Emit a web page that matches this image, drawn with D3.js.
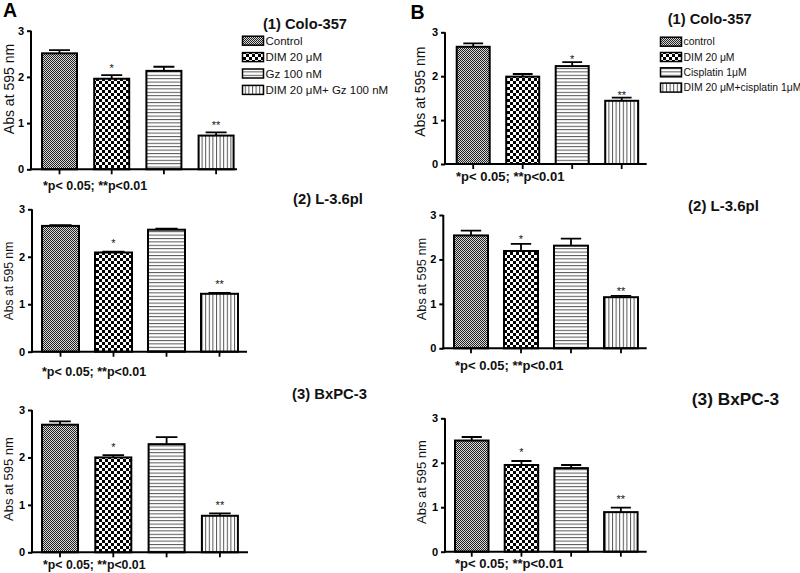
<!DOCTYPE html>
<html>
<head>
<meta charset="utf-8">
<script src="https://cdn.jsdelivr.net/npm/d3@7"></script>
<style>
  html, body { margin: 0; padding: 0; background: #fff; }
  svg { display: block; font-family: "Liberation Sans", Arial, Helvetica, sans-serif; }
</style>
</head>
<body>
<svg id="chart" width="800" height="573"></svg>
<script>
// ---------- DATA ----------
const panelLetters = ["A", "B"];
const cellLines = ["(1) Colo-357", "(2) L-3.6pl", "(3) BxPC-3"];
const groupsA = ["Control", "DIM 20 μM", "Gz 100 nM", "DIM 20 μM+ Gz 100 nM"];
const groupsB = ["control", "DIM 20 μM", "Cisplatin 1μM", "DIM 20 μM+cisplatin 1μM"];
const yTicks = [0, 1, 2, 3];
const yLabel = "Abs at 595 nm";
const footnote = "*p< 0.05; **p<0.01";

const meanA1 = [2.51, 1.96, 2.13, 0.73];
const semA1  = [0.07, 0.08, 0.09, 0.07];
const sigA1  = ["", "*", "", "**"];

const meanA2 = [2.65, 2.09, 2.57, 1.22];
const semA2  = [0.015, 0.02, 0.02, 0.02];
const sigA2  = ["", "*", "", "**"];

const meanA3 = [2.69, 2.00, 2.28, 0.77];
const semA3  = [0.07, 0.05, 0.15, 0.05];
const sigA3  = ["", "*", "", "**"];

const meanB1 = [2.67, 1.99, 2.23, 1.44];
const semB1  = [0.08, 0.06, 0.09, 0.07];
const sigB1  = ["", "", "*", "**"];

const meanB2 = [2.54, 2.19, 2.31, 1.15];
const semB2  = [0.11, 0.16, 0.16, 0.03];
const sigB2  = ["", "*", "", "**"];

const meanB3 = [2.50, 1.95, 1.88, 0.89];
const semB3  = [0.08, 0.09, 0.07, 0.10];
const sigB3  = ["", "*", "", "**"];

const patternIds = ["pControl", "pDIM", "pHoriz", "pVert"];

// ---------- LAYOUT ----------
const svg = d3.select("#chart");
const FONT = '"Liberation Sans", Arial, Helvetica, sans-serif';

// patterns
const defs = svg.append("defs");
{
  const p = defs.append("pattern").attr("id", "pControl").attr("patternUnits", "userSpaceOnUse")
    .attr("width", 2).attr("height", 2);
  p.append("rect").attr("width", 2).attr("height", 2).attr("fill", "#d8d8d8");
  p.append("rect").attr("width", 1).attr("height", 1).attr("fill", "#222");
  p.append("rect").attr("x", 1).attr("y", 1).attr("width", 1).attr("height", 1).attr("fill", "#222");
}
{
  const p = defs.append("pattern").attr("id", "pDIM").attr("patternUnits", "userSpaceOnUse")
    .attr("width", 6).attr("height", 6);
  p.append("rect").attr("width", 6).attr("height", 6).attr("fill", "#fff");
  p.append("rect").attr("width", 3).attr("height", 3).attr("fill", "#000");
  p.append("rect").attr("x", 3).attr("y", 3).attr("width", 3).attr("height", 3).attr("fill", "#000");
}
{
  const p = defs.append("pattern").attr("id", "pHoriz").attr("patternUnits", "userSpaceOnUse")
    .attr("width", 4).attr("height", 3.4);
  p.append("rect").attr("width", 4).attr("height", 3.4).attr("fill", "#fff");
  p.append("rect").attr("y", 0).attr("width", 4).attr("height", 1).attr("fill", "#555");
}
{
  const p = defs.append("pattern").attr("id", "pVert").attr("patternUnits", "userSpaceOnUse")
    .attr("width", 3.6).attr("height", 4);
  p.append("rect").attr("width", 3.6).attr("height", 4).attr("fill", "#fff");
  p.append("rect").attr("x", 0).attr("width", 1).attr("height", 4).attr("fill", "#555");
}

const panels = [
  { mean: meanA1, sem: semA1, sig: sigA1, title: cellLines[0],
    axisX: 31, y0: 169.3, y3: 30.7, firstLeft: 42, step: 52.2, width: 35, axisEnd: 237,
    titleX: 305, titleY: 28.5, titleSize: 14.7,
    labX: 13.5, labY: 89, labSize: 14,
    footX: 43, footY: 189.5, footSize: 12.5, sigOff: 9 },
  { mean: meanA2, sem: semA2, sig: sigA2, title: cellLines[1],
    axisX: 32, y0: 351.7, y3: 209.3, firstLeft: 42, step: 53, width: 37, axisEnd: 247,
    titleX: 328, titleY: 203.5, titleSize: 14.8,
    labX: 13, labY: 281, labSize: 12.2,
    footX: 42, footY: 376, footSize: 12.5, sigOff: 11 },
  { mean: meanA3, sem: semA3, sig: sigA3, title: cellLines[2],
    axisX: 32, y0: 552.3, y3: 410, firstLeft: 42, step: 53.3, width: 36, axisEnd: 248,
    titleX: 329.5, titleY: 398.5, titleSize: 14.8,
    labX: 13, labY: 479, labSize: 13,
    footX: 43, footY: 569, footSize: 12.3, sigOff: 10 },
  { mean: meanB1, sem: semB1, sig: sigB1, title: cellLines[0],
    axisX: 445, y0: 164, y3: 32.3, firstLeft: 456.7, step: 49.5, width: 33, axisEnd: 646.7,
    titleX: 709.7, titleY: 23.5, titleSize: 14.7,
    labX: 425, labY: 91.7, labSize: 14,
    footX: 456, footY: 181, footSize: 13, sigOff: 5 },
  { mean: meanB2, sem: semB2, sig: sigB2, title: cellLines[1],
    axisX: 443.3, y0: 348.3, y3: 215, firstLeft: 454, step: 50, width: 34, axisEnd: 646.7,
    titleX: 723.5, titleY: 210.5, titleSize: 15,
    labX: 426, labY: 279, labSize: 12.8,
    footX: 455, footY: 370, footSize: 13, sigOff: 7 },
  { mean: meanB3, sem: semB3, sig: sigB3, title: cellLines[2],
    axisX: 445, y0: 551.7, y3: 418.3, firstLeft: 455, step: 49.7, width: 33.5, axisEnd: 646.7,
    titleX: 735.5, titleY: 404.5, titleSize: 17.3,
    labX: 426, labY: 482, labSize: 13,
    footX: 455, footY: 567.5, footSize: 13, sigOff: 11 }
];

panels.forEach((P) => {
  const g = svg.append("g");
  const idx = d3.range(P.mean.length);
  const pi = 1 - P.width / P.step;
  const po = (P.firstLeft - P.axisX) / P.step;
  const x = d3.scaleBand().domain(idx)
    .range([P.axisX, P.axisX + P.step * (idx.length - pi + 2 * po)])
    .paddingInner(pi).paddingOuter(po).align(0.5);
  const y = d3.scaleLinear().domain([0, 3]).range([P.y0, P.y3]);

  // bars
  g.selectAll("rect.bar").data(idx).join("rect")
    .attr("class", "bar")
    .attr("x", i => x(i)).attr("width", x.bandwidth())
    .attr("y", i => y(P.mean[i])).attr("height", i => y(0) - y(P.mean[i]))
    .attr("fill", i => `url(#${patternIds[i]})`)
    .attr("stroke", "#000").attr("stroke-width", 2);

  // error bars (upper only)
  const capW = x.bandwidth() * 0.6;
  g.selectAll("path.err").data(idx).join("path")
    .attr("class", "err")
    .attr("d", i => {
      const cx = x(i) + x.bandwidth() / 2;
      const yt = y(P.mean[i] + P.sem[i]);
      return `M${cx},${y(P.mean[i])}V${yt}M${cx - capW / 2},${yt}H${cx + capW / 2}`;
    })
    .attr("fill", "none").attr("stroke", "#000").attr("stroke-width", 1.8);

  // significance
  g.selectAll("text.sig").data(idx.filter(i => P.sig[i])).join("text")
    .attr("class", "sig")
    .attr("x", i => x(i) + x.bandwidth() / 2)
    .attr("y", i => y(P.mean[i] + P.sem[i]) - P.sigOff + 6)
    .attr("text-anchor", "middle")
    .attr("font-size", 11).attr("fill", "#111")
    .text(i => P.sig[i]);

  // y axis
  const ya = g.append("g").attr("transform", `translate(${P.axisX},0)`)
    .call(d3.axisLeft(y).tickValues(yTicks).tickFormat(d3.format("d")).tickSize(4).tickSizeOuter(0).tickPadding(3));
  ya.select(".domain").attr("stroke-width", 2).attr("d", `M0,${y(0) + 1}V${y(3)}`);
  ya.selectAll(".tick line").attr("stroke-width", 2);
  ya.selectAll(".tick text").attr("font-size", 11).attr("font-weight", "bold").attr("font-family", FONT);

  // x axis
  g.append("line").attr("x1", P.axisX - 1).attr("x2", P.axisEnd)
    .attr("y1", y(0)).attr("y2", y(0)).attr("stroke", "#000").attr("stroke-width", 2);
  g.selectAll("line.xt").data(idx).join("line")
    .attr("class", "xt")
    .attr("x1", i => x(i) + x.bandwidth() / 2).attr("x2", i => x(i) + x.bandwidth() / 2)
    .attr("y1", y(0)).attr("y2", y(0) + 5)
    .attr("stroke", "#000").attr("stroke-width", 1.8);

  // y label
  g.append("text")
    .attr("transform", `translate(${P.labX},${P.labY}) rotate(-90)`)
    .attr("text-anchor", "middle").attr("font-size", P.labSize).attr("fill", "#111")
    .text(yLabel);

  // title
  g.append("text").attr("x", P.titleX).attr("y", P.titleY)
    .attr("text-anchor", "middle").attr("font-weight", "bold").attr("font-size", P.titleSize)
    .attr("fill", "#111").text(P.title);

  // footnote
  g.append("text").attr("x", P.footX).attr("y", P.footY)
    .attr("font-weight", "bold").attr("font-size", P.footSize).attr("fill", "#111")
    .text(footnote);
});

// panel letters
svg.append("text").attr("x", 3).attr("y", 17).attr("font-weight", "bold").attr("font-size", 19.5).text(panelLetters[0]);
svg.append("text").attr("x", 410.5).attr("y", 18.5).attr("font-weight", "bold").attr("font-size", 19.5).text(panelLetters[1]);

// legends
function legend(groups, lx, ly, dy, sw, size) {
  const lg = svg.append("g");
  groups.forEach((name, i) => {
    const cy = ly + i * dy;
    lg.append("rect").attr("x", lx).attr("y", cy - 4.5).attr("width", sw).attr("height", 9)
      .attr("fill", `url(#${patternIds[i]})`).attr("stroke", "#000").attr("stroke-width", 1.5);
    lg.append("text").attr("x", lx + sw + 2).attr("y", cy + size * 0.36)
      .attr("font-size", size).attr("fill", "#111").text(name);
  });
}
legend(groupsA, 242.5, 40.7, 16.4, 21, 11.5);
legend(groupsB, 660.5, 41.7, 15.3, 21, 10.4);
</script>
</body>
</html>
